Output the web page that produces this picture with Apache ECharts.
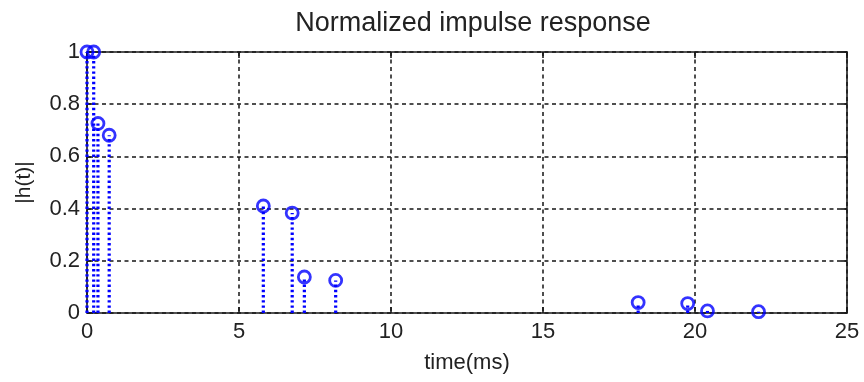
<!DOCTYPE html>
<html>
<head>
<meta charset="utf-8">
<script src="https://cdn.jsdelivr.net/npm/echarts@6/dist/echarts.min.js"></script>
<style>
  html, body { margin: 0; padding: 0; background: #ffffff; }
  #chart { width: 864px; height: 382px; }
</style>
</head>
<body>
<div id="chart"></div>
<script>
// Impulse response taps: delay (ms) and normalized magnitude
const tapTimes = [0, 0.22, 0.36, 0.73, 5.8, 6.75, 7.15, 8.18, 18.13, 19.76, 20.41, 22.09];
const tapMagnitudes = [1, 1, 0.726, 0.681, 0.41, 0.383, 0.138, 0.125, 0.04, 0.036, 0.008, 0.005];
const xTicks = [0, 5, 10, 15, 20, 25];
const yTicks = [0, 0.2, 0.4, 0.6, 0.8, 1];

const taps = tapTimes.map((t, i) => [t, tapMagnitudes[i]]);

const textColor = '#222222';
const frameColor = '#1a1a1a';
const stemColor = '#0000ff';
const font = 'Liberation Sans, Arial, sans-serif';

const chart = echarts.init(document.getElementById('chart'), null, { renderer: 'canvas' });

const gridLine = { show: true, lineStyle: { color: '#151515', width: 1.5, type: [4, 3.5] } };
const frameLine = { show: true, onZero: false, lineStyle: { color: frameColor, width: 1.6 } };
const innerTick = { show: true, inside: true, length: 6, lineStyle: { color: frameColor, width: 1.6 } };

chart.setOption({
  backgroundColor: '#ffffff',
  animation: false,
  title: {
    text: 'Normalized impulse response',
    left: 468,
    textAlign: 'center',
    top: 5,
    textStyle: { fontFamily: font, fontSize: 27, fontWeight: 'normal', color: textColor }
  },
  grid: { left: 87, right: 17, top: 52, bottom: 69 },
  xAxis: [
    {
      type: 'value', min: xTicks[0], max: xTicks[xTicks.length - 1], interval: 5,
      position: 'bottom',
      name: 'time(ms)', nameLocation: 'middle', nameGap: 39,
      nameTextStyle: { fontFamily: font, fontSize: 22, color: textColor },
      axisLine: frameLine, axisTick: innerTick,
      axisLabel: { margin: 8, fontFamily: font, fontSize: 22, color: textColor },
      splitLine: gridLine
    },
    {
      type: 'value', min: xTicks[0], max: xTicks[xTicks.length - 1], interval: 5,
      position: 'top',
      axisLine: frameLine, axisTick: innerTick,
      axisLabel: { show: false }, splitLine: { show: false }
    }
  ],
  yAxis: [
    {
      type: 'value', min: yTicks[0], max: yTicks[yTicks.length - 1], interval: 0.2,
      position: 'left',
      name: '|h(t)|', nameLocation: 'middle', nameGap: 52, nameRotate: 90,
      nameTextStyle: { fontFamily: font, fontSize: 21, color: textColor },
      axisLine: frameLine, axisTick: innerTick,
      axisLabel: { margin: 7, fontFamily: font, fontSize: 22, color: textColor },
      splitLine: gridLine
    },
    {
      type: 'value', min: yTicks[0], max: yTicks[yTicks.length - 1], interval: 0.2,
      position: 'right',
      axisLine: frameLine, axisTick: innerTick,
      axisLabel: { show: false }, splitLine: { show: false }
    }
  ],
  series: [
    {
      // dotted stems from the baseline up to each tap
      type: 'custom',
      xAxisIndex: 0, yAxisIndex: 0,
      data: taps,
      clip: false,
      renderItem: function (params, api) {
        const base = api.coord([api.value(0), 0]);
        const top = api.coord([api.value(0), api.value(1)]);
        return {
          type: 'line',
          shape: { x1: base[0], y1: base[1], x2: top[0], y2: top[1] },
          style: { stroke: stemColor, lineWidth: 3.2, lineDash: [2.4, 2.8], lineCap: 'butt' }
        };
      },
      z: 3
    },
    {
      // open circle markers at the tap heights
      type: 'scatter',
      xAxisIndex: 0, yAxisIndex: 0,
      data: taps,
      symbol: 'circle',
      symbolSize: 12,
      clip: false,
      itemStyle: { color: 'rgba(0,0,0,0)', borderColor: stemColor, borderWidth: 2.8 },
      z: 4
    }
  ]
});
</script>
</body>
</html>
